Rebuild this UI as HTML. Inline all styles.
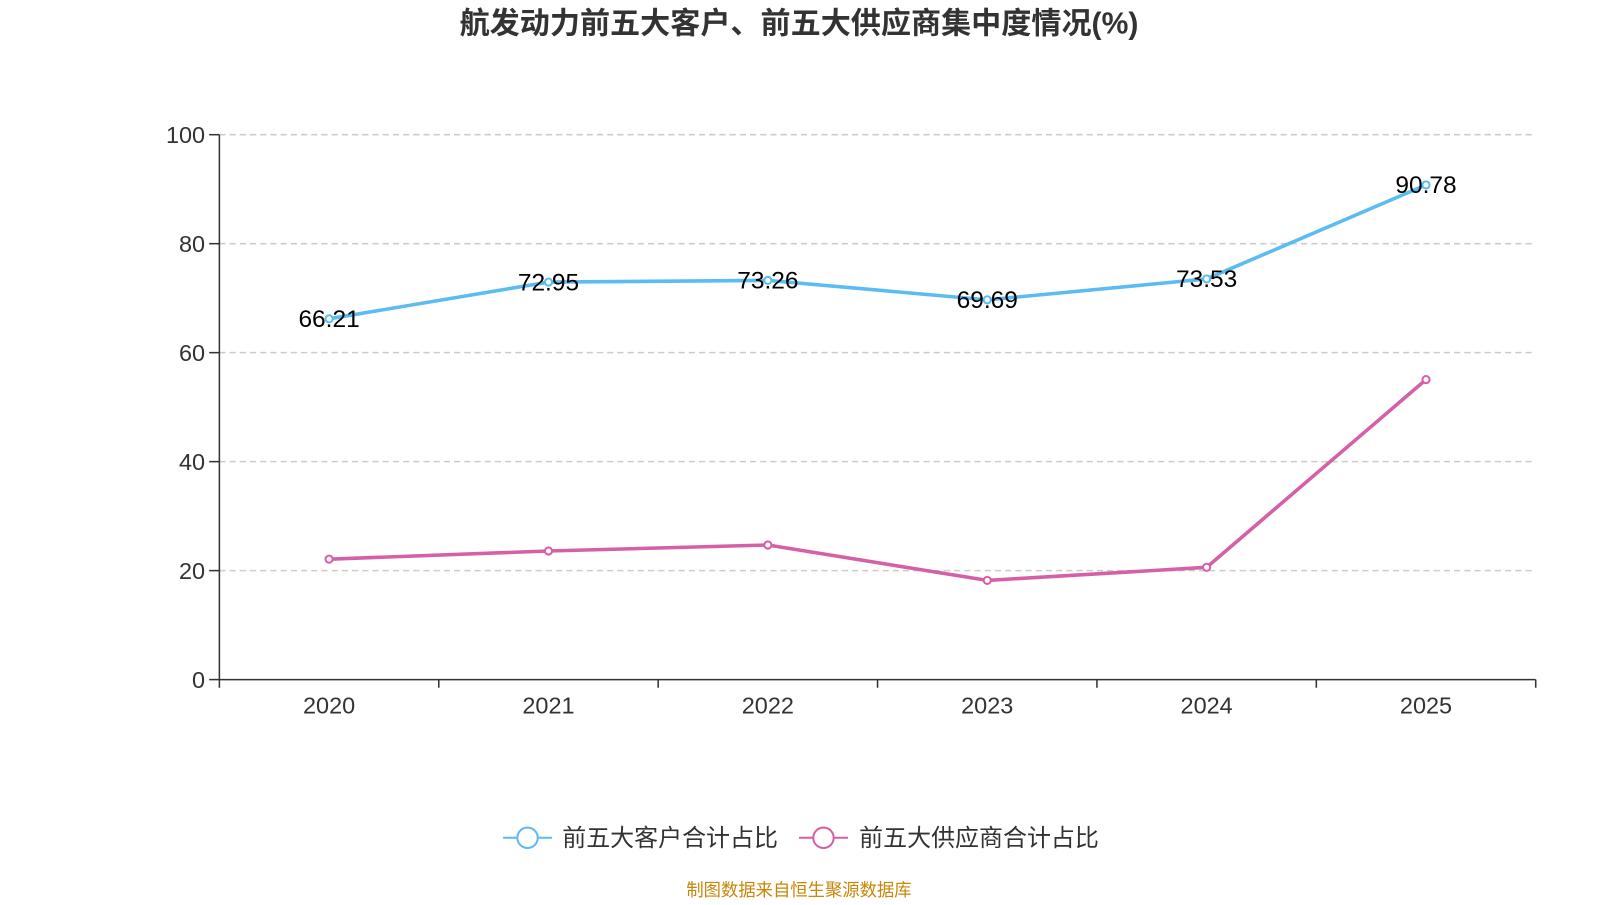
<!DOCTYPE html>
<html><head><meta charset="utf-8">
<style>
body{margin:0;background:#fff;width:1600px;height:900px;overflow:hidden;font-family:"Liberation Sans","Noto Sans CJK SC",sans-serif;}
</style></head>
<body>
<svg id="chart" width="1600" height="900" viewBox="0 0 1568 882" preserveAspectRatio="none" xmlns="http://www.w3.org/2000/svg" font-family="Liberation Sans, Noto Sans CJK SC, sans-serif">
<text x="783" y="33" text-anchor="middle" font-size="29.5" font-weight="bold" fill="#333">航发动力前五大客户、前五大供应商集中度情况(%)</text>
<g id="grid"></g><g id="axes"></g><g id="series"></g>
<g>
 <g>
  <line x1="493" y1="821" x2="541" y2="821" stroke="#5bbcf2" stroke-width="2"/>
  <circle cx="517" cy="821" r="10" fill="#fff" stroke="#5bbcf2" stroke-width="2"/>
  <text x="551" y="829" font-size="23.5" fill="#333">前五大客户合计占比</text>
 </g>
 <g>
  <line x1="783" y1="821" x2="831" y2="821" stroke="#d660a8" stroke-width="2"/>
  <circle cx="807" cy="821" r="10" fill="#fff" stroke="#d660a8" stroke-width="2"/>
  <text x="842" y="829" font-size="23.5" fill="#333">前五大供应商合计占比</text>
 </g>
</g>
<text x="783" y="878" text-anchor="middle" font-size="17" fill="#c8860a">制图数据来自恒生聚源数据库</text>
</svg>
<script>
const categories=["2020","2021","2022","2023","2024","2025"];
const customerValues=[66.21,72.95,73.26,69.69,73.53,90.78];
const supplierValues=[22.1,23.6,24.7,18.2,20.6,55.06];
const yTicks=[0,20,40,60,80,100];
const NS="http://www.w3.org/2000/svg";
const x0=215,x1=1505,y0=666,y1=132;
const band=(x1-x0)/categories.length;
const xs=i=>x0+band*(i+0.5);
const ys=v=>y0-(v/100)*(y0-y1);
function mk(tag,attrs,parent){const e=document.createElementNS(NS,tag);for(const k in attrs)e.setAttribute(k,attrs[k]);parent.appendChild(e);return e;}
const grid=document.getElementById('grid'),axes=document.getElementById('axes'),ser=document.getElementById('series');
yTicks.forEach(t=>{
 const y=ys(t);
 if(t>0){const g=mk('line',{x1:x0,x2:x1,y1:y,y2:y,stroke:'#ccc','stroke-dasharray':'6,4','stroke-width':1.5},grid);
 
 }
 mk('line',{x1:x0-10,x2:x0,y1:y,y2:y,stroke:'#333','stroke-width':1.5},axes);
 const tx=mk('text',{x:x0-14,y:y+8,'text-anchor':'end','font-size':23,fill:'#333'},axes);tx.textContent=t;
 
 
});
const ya=mk('line',{x1:x0,x2:x0,y1:y1,y2:y0,stroke:'#333','stroke-width':1.5},axes);


const xa=mk('line',{x1:x0,x2:x1,y1:y0,y2:y0,stroke:'#333','stroke-width':1.5},axes);


for(let i=0;i<=categories.length;i++){const x=x0+band*i;mk('line',{x1:x,x2:x,y1:y0,y2:y0+8,stroke:'#333','stroke-width':1.5},axes);}
categories.forEach((c,i)=>{const t=mk('text',{x:xs(i),y:y0+33,'text-anchor':'middle','font-size':23,fill:'#333'},axes);t.textContent=c;
 
 });
function drawSeries(vals,color,name,labels){
 const pts=vals.map((v,i)=>xs(i)+','+ys(v)).join(' ');
 const pl=mk('polyline',{points:pts,fill:'none',stroke:color,'stroke-width':3.5,'stroke-linejoin':'round'},ser);
 
 
 vals.forEach((v,i)=>{const c=mk('circle',{cx:xs(i),cy:ys(v),r:3.5,fill:'#fff',stroke:color,'stroke-width':2},ser);
  
  
  if(labels){const t=mk('text',{x:xs(i),y:ys(v)+8,'text-anchor':'middle','font-size':24,fill:'#000'},ser);t.textContent=v.toFixed(2);
  
  }
 });
}
drawSeries(supplierValues,'#d660a8','supplier',false);
drawSeries(customerValues,'#5bbcf2','customer',true);
</script>
</body></html>
